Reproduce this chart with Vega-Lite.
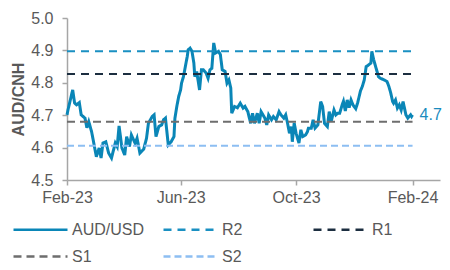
{
  "$schema": "https://vega.github.io/schema/vega-lite/v6.json",
  "width": 373,
  "height": 162,
  "autosize": {"type": "none"},
  "padding": {"left": 67, "top": 18, "right": 10, "bottom": 90},
  "config": {
    "view": {"stroke": null},
    "font": "Liberation Sans",
    "axis": {"labelFont": "Liberation Sans", "titleFont": "Liberation Sans"},
    "legend": {"labelFont": "Liberation Sans"}
  },
  "datasets": {
    "fx": [
      {"date": "2023-02-01", "value": 4.701, "series": "AUD/USD"},
      {"date": "2023-02-02", "value": 4.716, "series": "AUD/USD"},
      {"date": "2023-02-07", "value": 4.778, "series": "AUD/USD"},
      {"date": "2023-02-09", "value": 4.738, "series": "AUD/USD"},
      {"date": "2023-02-11", "value": 4.732, "series": "AUD/USD"},
      {"date": "2023-02-14", "value": 4.739, "series": "AUD/USD"},
      {"date": "2023-02-16", "value": 4.701, "series": "AUD/USD"},
      {"date": "2023-02-20", "value": 4.691, "series": "AUD/USD"},
      {"date": "2023-02-22", "value": 4.661, "series": "AUD/USD"},
      {"date": "2023-02-24", "value": 4.680, "series": "AUD/USD"},
      {"date": "2023-02-27", "value": 4.649, "series": "AUD/USD"},
      {"date": "2023-03-02", "value": 4.603, "series": "AUD/USD"},
      {"date": "2023-03-04", "value": 4.572, "series": "AUD/USD"},
      {"date": "2023-03-07", "value": 4.599, "series": "AUD/USD"},
      {"date": "2023-03-09", "value": 4.568, "series": "AUD/USD"},
      {"date": "2023-03-11", "value": 4.614, "series": "AUD/USD"},
      {"date": "2023-03-14", "value": 4.618, "series": "AUD/USD"},
      {"date": "2023-03-17", "value": 4.583, "series": "AUD/USD"},
      {"date": "2023-03-20", "value": 4.568, "series": "AUD/USD"},
      {"date": "2023-03-24", "value": 4.614, "series": "AUD/USD"},
      {"date": "2023-03-26", "value": 4.603, "series": "AUD/USD"},
      {"date": "2023-03-28", "value": 4.667, "series": "AUD/USD"},
      {"date": "2023-03-31", "value": 4.599, "series": "AUD/USD"},
      {"date": "2023-04-03", "value": 4.577, "series": "AUD/USD"},
      {"date": "2023-04-05", "value": 4.634, "series": "AUD/USD"},
      {"date": "2023-04-08", "value": 4.603, "series": "AUD/USD"},
      {"date": "2023-04-10", "value": 4.639, "series": "AUD/USD"},
      {"date": "2023-04-14", "value": 4.613, "series": "AUD/USD"},
      {"date": "2023-04-16", "value": 4.629, "series": "AUD/USD"},
      {"date": "2023-04-19", "value": 4.583, "series": "AUD/USD"},
      {"date": "2023-04-23", "value": 4.595, "series": "AUD/USD"},
      {"date": "2023-04-26", "value": 4.629, "series": "AUD/USD"},
      {"date": "2023-04-28", "value": 4.675, "series": "AUD/USD"},
      {"date": "2023-05-02", "value": 4.696, "series": "AUD/USD"},
      {"date": "2023-05-04", "value": 4.701, "series": "AUD/USD"},
      {"date": "2023-05-06", "value": 4.634, "series": "AUD/USD"},
      {"date": "2023-05-09", "value": 4.665, "series": "AUD/USD"},
      {"date": "2023-05-12", "value": 4.670, "series": "AUD/USD"},
      {"date": "2023-05-14", "value": 4.686, "series": "AUD/USD"},
      {"date": "2023-05-16", "value": 4.691, "series": "AUD/USD"},
      {"date": "2023-05-19", "value": 4.608, "series": "AUD/USD"},
      {"date": "2023-05-22", "value": 4.618, "series": "AUD/USD"},
      {"date": "2023-05-25", "value": 4.634, "series": "AUD/USD"},
      {"date": "2023-05-26", "value": 4.691, "series": "AUD/USD"},
      {"date": "2023-05-28", "value": 4.727, "series": "AUD/USD"},
      {"date": "2023-05-30", "value": 4.758, "series": "AUD/USD"},
      {"date": "2023-06-01", "value": 4.778, "series": "AUD/USD"},
      {"date": "2023-06-02", "value": 4.799, "series": "AUD/USD"},
      {"date": "2023-06-04", "value": 4.819, "series": "AUD/USD"},
      {"date": "2023-06-08", "value": 4.881, "series": "AUD/USD"},
      {"date": "2023-06-09", "value": 4.902, "series": "AUD/USD"},
      {"date": "2023-06-11", "value": 4.907, "series": "AUD/USD"},
      {"date": "2023-06-13", "value": 4.897, "series": "AUD/USD"},
      {"date": "2023-06-15", "value": 4.861, "series": "AUD/USD"},
      {"date": "2023-06-16", "value": 4.819, "series": "AUD/USD"},
      {"date": "2023-06-18", "value": 4.835, "series": "AUD/USD"},
      {"date": "2023-06-21", "value": 4.778, "series": "AUD/USD"},
      {"date": "2023-06-23", "value": 4.840, "series": "AUD/USD"},
      {"date": "2023-06-25", "value": 4.840, "series": "AUD/USD"},
      {"date": "2023-06-28", "value": 4.830, "series": "AUD/USD"},
      {"date": "2023-06-30", "value": 4.814, "series": "AUD/USD"},
      {"date": "2023-07-02", "value": 4.840, "series": "AUD/USD"},
      {"date": "2023-07-04", "value": 4.845, "series": "AUD/USD"},
      {"date": "2023-07-06", "value": 4.923, "series": "AUD/USD"},
      {"date": "2023-07-08", "value": 4.892, "series": "AUD/USD"},
      {"date": "2023-07-11", "value": 4.897, "series": "AUD/USD"},
      {"date": "2023-07-13", "value": 4.887, "series": "AUD/USD"},
      {"date": "2023-07-15", "value": 4.840, "series": "AUD/USD"},
      {"date": "2023-07-18", "value": 4.835, "series": "AUD/USD"},
      {"date": "2023-07-20", "value": 4.799, "series": "AUD/USD"},
      {"date": "2023-07-22", "value": 4.809, "series": "AUD/USD"},
      {"date": "2023-07-24", "value": 4.784, "series": "AUD/USD"},
      {"date": "2023-07-25", "value": 4.706, "series": "AUD/USD"},
      {"date": "2023-07-28", "value": 4.727, "series": "AUD/USD"},
      {"date": "2023-07-31", "value": 4.723, "series": "AUD/USD"},
      {"date": "2023-08-03", "value": 4.737, "series": "AUD/USD"},
      {"date": "2023-08-06", "value": 4.722, "series": "AUD/USD"},
      {"date": "2023-08-08", "value": 4.727, "series": "AUD/USD"},
      {"date": "2023-08-11", "value": 4.711, "series": "AUD/USD"},
      {"date": "2023-08-14", "value": 4.675, "series": "AUD/USD"},
      {"date": "2023-08-16", "value": 4.706, "series": "AUD/USD"},
      {"date": "2023-08-18", "value": 4.675, "series": "AUD/USD"},
      {"date": "2023-08-21", "value": 4.706, "series": "AUD/USD"},
      {"date": "2023-08-23", "value": 4.675, "series": "AUD/USD"},
      {"date": "2023-08-25", "value": 4.711, "series": "AUD/USD"},
      {"date": "2023-08-28", "value": 4.696, "series": "AUD/USD"},
      {"date": "2023-08-29", "value": 4.691, "series": "AUD/USD"},
      {"date": "2023-08-31", "value": 4.670, "series": "AUD/USD"},
      {"date": "2023-09-02", "value": 4.701, "series": "AUD/USD"},
      {"date": "2023-09-05", "value": 4.686, "series": "AUD/USD"},
      {"date": "2023-09-07", "value": 4.696, "series": "AUD/USD"},
      {"date": "2023-09-10", "value": 4.686, "series": "AUD/USD"},
      {"date": "2023-09-13", "value": 4.711, "series": "AUD/USD"},
      {"date": "2023-09-15", "value": 4.701, "series": "AUD/USD"},
      {"date": "2023-09-18", "value": 4.691, "series": "AUD/USD"},
      {"date": "2023-09-20", "value": 4.701, "series": "AUD/USD"},
      {"date": "2023-09-22", "value": 4.675, "series": "AUD/USD"},
      {"date": "2023-09-24", "value": 4.644, "series": "AUD/USD"},
      {"date": "2023-09-26", "value": 4.665, "series": "AUD/USD"},
      {"date": "2023-09-27", "value": 4.618, "series": "AUD/USD"},
      {"date": "2023-09-29", "value": 4.676, "series": "AUD/USD"},
      {"date": "2023-10-01", "value": 4.644, "series": "AUD/USD"},
      {"date": "2023-10-04", "value": 4.614, "series": "AUD/USD"},
      {"date": "2023-10-06", "value": 4.655, "series": "AUD/USD"},
      {"date": "2023-10-08", "value": 4.634, "series": "AUD/USD"},
      {"date": "2023-10-11", "value": 4.639, "series": "AUD/USD"},
      {"date": "2023-10-13", "value": 4.649, "series": "AUD/USD"},
      {"date": "2023-10-14", "value": 4.660, "series": "AUD/USD"},
      {"date": "2023-10-17", "value": 4.660, "series": "AUD/USD"},
      {"date": "2023-10-19", "value": 4.686, "series": "AUD/USD"},
      {"date": "2023-10-21", "value": 4.660, "series": "AUD/USD"},
      {"date": "2023-10-24", "value": 4.670, "series": "AUD/USD"},
      {"date": "2023-10-27", "value": 4.742, "series": "AUD/USD"},
      {"date": "2023-10-29", "value": 4.727, "series": "AUD/USD"},
      {"date": "2023-10-31", "value": 4.675, "series": "AUD/USD"},
      {"date": "2023-11-03", "value": 4.665, "series": "AUD/USD"},
      {"date": "2023-11-05", "value": 4.711, "series": "AUD/USD"},
      {"date": "2023-11-07", "value": 4.680, "series": "AUD/USD"},
      {"date": "2023-11-10", "value": 4.716, "series": "AUD/USD"},
      {"date": "2023-11-12", "value": 4.701, "series": "AUD/USD"},
      {"date": "2023-11-14", "value": 4.706, "series": "AUD/USD"},
      {"date": "2023-11-16", "value": 4.706, "series": "AUD/USD"},
      {"date": "2023-11-19", "value": 4.735, "series": "AUD/USD"},
      {"date": "2023-11-20", "value": 4.743, "series": "AUD/USD"},
      {"date": "2023-11-22", "value": 4.713, "series": "AUD/USD"},
      {"date": "2023-11-24", "value": 4.747, "series": "AUD/USD"},
      {"date": "2023-11-26", "value": 4.723, "series": "AUD/USD"},
      {"date": "2023-11-28", "value": 4.747, "series": "AUD/USD"},
      {"date": "2023-11-30", "value": 4.732, "series": "AUD/USD"},
      {"date": "2023-12-03", "value": 4.720, "series": "AUD/USD"},
      {"date": "2023-12-05", "value": 4.738, "series": "AUD/USD"},
      {"date": "2023-12-08", "value": 4.775, "series": "AUD/USD"},
      {"date": "2023-12-10", "value": 4.789, "series": "AUD/USD"},
      {"date": "2023-12-12", "value": 4.809, "series": "AUD/USD"},
      {"date": "2023-12-14", "value": 4.850, "series": "AUD/USD"},
      {"date": "2023-12-17", "value": 4.856, "series": "AUD/USD"},
      {"date": "2023-12-19", "value": 4.861, "series": "AUD/USD"},
      {"date": "2023-12-20", "value": 4.897, "series": "AUD/USD"},
      {"date": "2023-12-22", "value": 4.871, "series": "AUD/USD"},
      {"date": "2023-12-24", "value": 4.850, "series": "AUD/USD"},
      {"date": "2023-12-26", "value": 4.830, "series": "AUD/USD"},
      {"date": "2023-12-27", "value": 4.819, "series": "AUD/USD"},
      {"date": "2023-12-29", "value": 4.814, "series": "AUD/USD"},
      {"date": "2024-01-02", "value": 4.809, "series": "AUD/USD"},
      {"date": "2024-01-05", "value": 4.804, "series": "AUD/USD"},
      {"date": "2024-01-07", "value": 4.789, "series": "AUD/USD"},
      {"date": "2024-01-09", "value": 4.768, "series": "AUD/USD"},
      {"date": "2024-01-11", "value": 4.742, "series": "AUD/USD"},
      {"date": "2024-01-12", "value": 4.737, "series": "AUD/USD"},
      {"date": "2024-01-14", "value": 4.747, "series": "AUD/USD"},
      {"date": "2024-01-16", "value": 4.722, "series": "AUD/USD"},
      {"date": "2024-01-18", "value": 4.732, "series": "AUD/USD"},
      {"date": "2024-01-20", "value": 4.716, "series": "AUD/USD"},
      {"date": "2024-01-22", "value": 4.742, "series": "AUD/USD"},
      {"date": "2024-01-25", "value": 4.701, "series": "AUD/USD"},
      {"date": "2024-01-27", "value": 4.691, "series": "AUD/USD"},
      {"date": "2024-01-30", "value": 4.701, "series": "AUD/USD"},
      {"date": "2024-01-31", "value": 4.696, "series": "AUD/USD"},
      {"date": "2024-02-01", "value": 4.701, "series": "AUD/USD"}
    ],
    "levels": [
      {"series": "R2", "date": "2023-02-01", "end": "2024-02-01", "value": 4.897},
      {"series": "R1", "date": "2023-02-01", "end": "2024-02-01", "value": 4.827},
      {"series": "S1", "date": "2023-02-01", "end": "2024-02-01", "value": 4.680},
      {"series": "S2", "date": "2023-02-01", "end": "2024-02-01", "value": 4.606}
    ],
    "lbl": [
      {"date": "2024-02-01", "value": 4.701, "label": "4.7"}
    ]
  },
  "encoding": {
    "x": {
      "field": "date",
      "type": "temporal",
      "scale": {"type": "utc", "domain": [{"year": 2023, "month": 2, "date": 1, "utc": true}, {"year": 2024, "month": 3, "date": 1, "utc": true}]},
      "axis": {
        "title": null,
        "values": [
          {"year": 2023, "month": 2, "date": 1, "utc": true},
          {"year": 2023, "month": 6, "date": 1, "utc": true},
          {"year": 2023, "month": 10, "date": 1, "utc": true},
          {"year": 2024, "month": 2, "date": 1, "utc": true}
        ],
        "labelExpr": "utcFormat(datum.value, '%b-%y')",
        "grid": false,
        "labelFontSize": 16,
        "labelColor": "#595959",
        "labelPadding": 4,
        "labelFlush": false,
        "labelOverlap": false,
        "tickSize": 5,
        "tickColor": "#A6A6A6",
        "domainColor": "#A6A6A6",
        "domainWidth": 1.5,
        "tickWidth": 1.5
      }
    },
    "y": {
      "field": "value",
      "type": "quantitative",
      "scale": {"domain": [4.5, 5.0], "nice": false, "zero": false},
      "axis": {
        "title": "AUD/CNH",
        "titleFontSize": 16,
        "titleFontWeight": "bold",
        "titleColor": "#595959",
        "titlePadding": 4,
        "values": [4.5, 4.6, 4.7, 4.8, 4.9, 5.0],
        "format": ".1f",
        "grid": false,
        "labelFontSize": 16,
        "labelColor": "#595959",
        "labelPadding": 9,
        "tickSize": 5,
        "tickColor": "#A6A6A6",
        "domainColor": "#A6A6A6",
        "domainWidth": 1.5,
        "tickWidth": 1.5
      }
    }
  },
  "layer": [
    {
      "data": {"name": "fx"},
      "mark": {"type": "line", "strokeWidth": 3},
      "encoding": {
        "color": {
          "field": "series", "type": "nominal",
          "scale": {"domain": ["AUD/USD", "R2", "R1", "S1", "S2"], "range": ["#0A86B7", "#1A90C2", "#1C2E40", "#6E6E6E", "#8DBEF2"]},
          "legend": {"title": null, "orient": "none", "legendX": -55, "legendY": 201, "direction": "horizontal", "columns": 3, "gridAlign": "all", "columnPadding": 13, "rowPadding": 8, "symbolType": "M-3,0H3", "symbolSize": 324, "symbolOffset": 18, "labelOffset": 21, "symbolStrokeWidth": 2.5, "labelFontSize": 16, "labelColor": "#595959"}
        },
        "strokeDash": {
          "field": "series", "type": "nominal",
          "scale": {"domain": ["AUD/USD", "R2", "R1", "S1", "S2"], "range": [[1, 0], [8, 6], [8, 6], [8, 5], [7, 4]]},
          "legend": {"title": null, "orient": "none", "legendX": -55, "legendY": 201, "direction": "horizontal", "columns": 3, "gridAlign": "all", "columnPadding": 13, "rowPadding": 8, "symbolType": "M-3,0H3", "symbolSize": 324, "symbolOffset": 18, "labelOffset": 21, "symbolStrokeWidth": 2.5, "labelFontSize": 16, "labelColor": "#595959"}
        }
      }
    },
    {
      "data": {"name": "levels"},
      "mark": {"type": "rule", "strokeWidth": 2},
      "encoding": {
        "x2": {"field": "end"},
        "color": {"field": "series", "type": "nominal"},
        "strokeDash": {"field": "series", "type": "nominal"}
      }
    },
    {
      "data": {"name": "lbl"},
      "mark": {"type": "text", "align": "left", "baseline": "middle", "dx": 7, "fontSize": 16, "color": "#1A8BBE"},
      "encoding": {
        "text": {"field": "label"}
      }
    }
  ]
}
